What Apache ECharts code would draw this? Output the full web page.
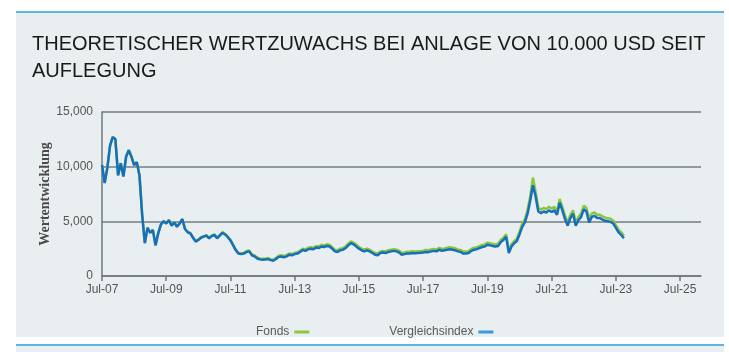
<!DOCTYPE html>
<html>
<head>
<meta charset="utf-8">
<script src="https://cdn.jsdelivr.net/npm/echarts@6/dist/echarts.min.js"></script>
<style>
  html, body { margin: 0; padding: 0; background: #fff; }
  #chart { width: 729px; height: 352px; }
</style>
</head>
<body>
<div id="chart"></div>
<script>
// monthly values, first entry = Jul 2007
var firstYear = 2007, firstMonth = 7;
var seriesNames = ['Fonds', 'Vergleichsindex'];
var tickYears = [2007, 2009, 2011, 2013, 2015, 2017, 2019, 2021, 2023, 2025];

var indexValues = [
  10150, 8500, 9900, 11900, 12700, 12500,
  9200, 10300, 9100, 10900, 11500, 10900, 10150, 10400, 9200, 5600, 3000, 4400,
  3950, 4200, 2800, 3900, 4700, 5000, 4800, 5100, 4600, 4900, 4500, 4800,
  5200, 4300, 4000, 3900, 3500, 3150, 3300, 3500, 3600, 3700, 3450, 3650,
  3750, 3450, 3700, 3950, 3800, 3550, 3250, 2800, 2350, 2050, 2000, 2050,
  2200, 2250, 1900, 1800, 1600, 1520, 1480, 1500, 1550, 1450, 1400, 1550,
  1750, 1780, 1720, 1800, 1950, 1900, 2000, 2050, 2200, 2380, 2300, 2450,
  2500, 2450, 2600, 2550, 2700, 2650, 2750, 2700, 2500, 2250, 2200, 2350,
  2400, 2550, 2800, 3000, 2900, 2700, 2500, 2350, 2250, 2350, 2250, 2100,
  1950, 1900, 2100, 2150, 2100, 2200, 2250, 2300, 2250, 2150, 1950, 2000,
  2050, 2050, 2100, 2080, 2100, 2120, 2150, 2200, 2180, 2250, 2300, 2250,
  2400, 2300, 2350, 2400, 2450, 2400, 2350, 2250, 2200, 2050, 2050, 2100,
  2300, 2400, 2450, 2550, 2650, 2700, 2850, 2800, 2750, 2700, 2750, 3100,
  3300, 3600, 2100, 2700, 3000, 3200, 3800, 4500, 4900, 5700, 6900, 8300,
  7300, 5900, 5750, 5900, 5800, 6000, 5850, 6000, 5600, 6700, 6000, 5200,
  4600, 5300, 5700, 4600, 5100, 5400, 6100, 5900, 4900, 5400, 5500, 5300,
  5300, 5150, 5050, 5000, 4950, 4800, 4400, 4000, 3750, 3450
];

var fondsValues = [
  10170, 8520, 9920, 11930, 12730, 12530,
  9230, 10330, 9130, 10930, 11530, 10930, 10180, 10430, 9230, 5630, 3030, 4430,
  3980, 4230, 2830, 3930, 4730, 5030, 4830, 5130, 4630, 4930, 4530, 4830,
  5230, 4340, 4040, 3940, 3540, 3190, 3340, 3540, 3640, 3740, 3490, 3690,
  3810, 3510, 3760, 4010, 3860, 3610, 3310, 2860, 2410, 2110, 2070, 2120,
  2280, 2330, 1980, 1880, 1690, 1610, 1570, 1590, 1640, 1540, 1490, 1640,
  1860, 1890, 1830, 1910, 2070, 2020, 2120, 2170, 2320, 2500, 2420, 2580,
  2640, 2590, 2740, 2690, 2850, 2800, 2900, 2850, 2650, 2400, 2350, 2500,
  2550, 2700, 2950, 3160, 3060, 2860, 2650, 2500, 2400, 2500, 2400, 2250,
  2100, 2050, 2250, 2300, 2250, 2360, 2410, 2460, 2410, 2310, 2110, 2160,
  2210, 2210, 2260, 2250, 2270, 2290, 2320, 2370, 2350, 2420, 2470, 2420,
  2570, 2470, 2520, 2580, 2630, 2580, 2530, 2430, 2380, 2230, 2230, 2280,
  2480, 2590, 2640, 2740, 2840, 2890, 3040, 2990, 2940, 2890, 2950, 3300,
  3500, 3820, 2280, 2900, 3210, 3420, 4050, 4780, 5200, 6030, 7280, 9000,
  7700, 6230, 6070, 6220, 6120, 6330, 6170, 6320, 5900, 7030, 6320, 5500,
  4880, 5600, 6010, 4890, 5400, 5710, 6430, 6220, 5200, 5710, 5810, 5600,
  5600, 5440, 5340, 5290, 5230, 5080, 4660, 4250, 3990, 3680
];

// x as decimal year, Jul 2007 = 2007.5
function monthPos(i) {
  return firstYear + (firstMonth - 1 + i) / 12;
}
function toPairs(values) {
  return values.map(function (v, i) { return [monthPos(i), v]; });
}
var julyTicks = tickYears.map(function (y) { return y + 0.5; });

var myChart = echarts.init(document.getElementById('chart'));
var option = {
  backgroundColor: '#ffffff',
  animation: false,
  graphic: [
    { type: 'rect', z: -10, shape: { x: 16, y: 13, width: 708, height: 324 }, style: { fill: '#e9eef1' } },
    { type: 'rect', z: -10, shape: { x: 16, y: 11, width: 708, height: 2 }, style: { fill: '#5ab7e6' } },
    { type: 'rect', z: -10, shape: { x: 16, y: 344, width: 708, height: 2 }, style: { fill: '#5ab7e6' } },
    { type: 'rect', z: -10, shape: { x: 16, y: 346, width: 708, height: 6 }, style: { fill: '#e9eef1' } }
  ],
  title: {
    text: 'THEORETISCHER WERTZUWACHS BEI ANLAGE VON 10.000 USD SEIT\nAUFLEGUNG',
    left: 27,
    top: 26,
    textStyle: {
      fontFamily: 'Liberation Sans',
      fontSize: 20,
      fontWeight: 'normal',
      lineHeight: 27,
      color: '#1a1a1a'
    }
  },
  legend: {
    left: 251,
    top: 321,
    align: 'right',
    icon: 'rect',
    itemWidth: 15,
    itemHeight: 3,
    itemGap: 80,
    textStyle: { fontFamily: 'Liberation Sans', fontSize: 12, color: '#5a5a5a', padding: 0 },
    data: [
      { name: 'Fonds', itemStyle: { color: '#8cc63e' } },
      { name: 'Vergleichsindex', itemStyle: { color: '#3b9ad9' } }
    ]
  },
  grid: { left: 102, right: 28, top: 112, bottom: 76 },
  xAxis: {
    type: 'value',
    min: 2007.5,
    max: 2026.15,
    splitLine: { show: false },
    axisLine: { lineStyle: { color: '#6f777d', width: 1.5 } },
    axisTick: {
      show: true,
      customValues: julyTicks,
      length: 5,
      lineStyle: { color: '#6f777d', width: 1.5 }
    },
    axisLabel: {
      customValues: julyTicks,
      margin: 8,
      fontFamily: 'Liberation Sans',
      fontSize: 12,
      color: '#555',
      formatter: function (v) {
        return 'Jul-' + String(Math.floor(v)).slice(2);
      }
    }
  },
  yAxis: {
    type: 'value',
    min: 0,
    max: 15000,
    interval: 5000,
    name: 'Wertentwicklung',
    nameLocation: 'middle',
    nameGap: 50,
    nameMoveOverlap: false,
    nameTextStyle: {
      fontFamily: 'Liberation Serif',
      fontWeight: 'bold',
      fontSize: 14,
      color: '#4a4a4a'
    },
    axisLine: { show: true, lineStyle: { color: '#6f777d', width: 1.5 } },
    axisTick: { show: false },
    axisLabel: { margin: 9, fontFamily: 'Liberation Sans', fontSize: 12, color: '#555' },
    splitLine: { lineStyle: { color: '#747c82', width: 1.5 } }
  },
  series: [
    {
      name: seriesNames[0],
      type: 'line',
      showSymbol: false,
      data: toPairs(fondsValues),
      color: '#8cc63e',
      lineStyle: { width: 2.5, color: '#8cc63e' }
    },
    {
      name: seriesNames[1],
      type: 'line',
      showSymbol: false,
      data: toPairs(indexValues),
      color: '#1470bd',
      lineStyle: { width: 2.5, color: '#1470bd' }
    }
  ]
};
myChart.setOption(option, true);
</script>
</body>
</html>
